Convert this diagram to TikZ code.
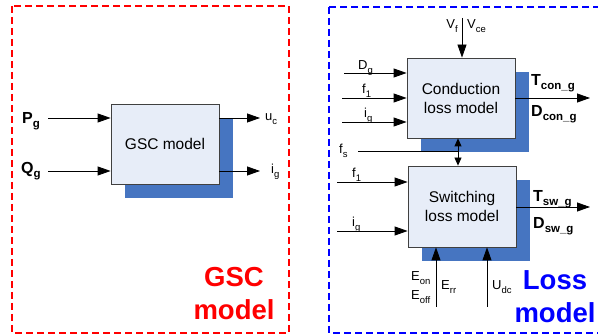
\documentclass[tikz,border=0pt]{standalone}
\usepackage{fontspec}
\setmainfont{Liberation Sans}
\usetikzlibrary{arrows.meta,shadows}
\definecolor{boxfill}{RGB}{231,237,248}
\definecolor{shadowblue}{RGB}{70,117,193}
\definecolor{lossblue}{RGB}{0,0,255}
\definecolor{gscred}{RGB}{255,0,0}
\newcommand{\lowtxt}[1]{\raisebox{-0.45ex}{\fontsize{9.5}{10}\selectfont #1}}
\newcommand{\lowbold}[1]{\raisebox{-0.45ex}{\fontsize{11.5}{12}\selectfont\bfseries #1}}
\begin{document}
\begin{tikzpicture}[
                x = 1pt, y = -1pt,
                block/.style = {draw = black!75, line width = 0.8pt, fill = boxfill, minimum width = 108pt, minimum height = 80pt,
                    inner sep = 0pt, align = center, font = \fontsize{15.5}{19}\selectfont,
                    drop shadow = {shadow xshift = 14pt, shadow yshift = -14pt, fill = shadowblue, opacity = 1}},
                small/.style = {inner sep = 0pt, font = \fontsize{13}{15}\selectfont},
                big/.style = {inner sep = 0pt, font = \bfseries\fontsize{16}{18}\selectfont},
                title/.style = {inner sep = 0pt, align = center, font = \bfseries\fontsize{27.5}{33}\selectfont},
                frame/.style = {line width = 1.5pt, dash pattern = on 7pt off 4pt},
                arr/.style = {draw, line width = 0.8pt, -{Triangle[length = 13pt, width = 9pt]}},
                biarr/.style = {draw, line width = 0.8pt, {Triangle[length = 8pt, width = 7pt]}-{Triangle[length = 8pt, width = 7pt]}},
                wire/.style = {draw, line width = 0.8pt},
            ]
            \useasboundingbox (0,0) rectangle (598,336);

            % frames
            \draw[frame, gscred] (12,6) rectangle (289,333);
            \draw[frame, lossblue] (329,7) rectangle (606,333);

            % GSC model
            \node (gsc) [block] at (165,144) {GSC model};

            \coordinate (pgin) at (48,118);
            \coordinate (qgin) at (48,171);
            \coordinate (ucout) at (260,118);
            \coordinate (igout) at (260,171);

            \node (pg) [big, anchor = base west] at (22,124) {P\lowbold{g}};
            \node (qg) [big, anchor = base west] at (21,174) {Q\lowbold{g}};
            \node (uc) [small, anchor = base west] at (265,121) {u\lowtxt{c}};
            \node (ig) [small, anchor = base west] at (271,174) {i\lowtxt{g}};

            \path[arr] (pgin) -- (pgin -| gsc.west);
            \path[arr] (qgin) -- (qgin -| gsc.west);
            \path[arr] (gsc.east |- ucout) -- (ucout);
            \path[arr] (gsc.east |- igout) -- (igout);

            \node (gsctitle) [title, gscred] at (234,294) {GSC\\model};

            % loss model
            \node (cond) [block] at (461,98) {Conduction\\loss model};
            \node (sw) [block, minimum height = 81pt] at (462,206.5) {Switching\\loss model};

            \coordinate (vfin) at (462,18);
            \coordinate (dgin) at (344,73);
            \coordinate (f1cin) at (342,98);
            \coordinate (igcin) at (342,122);
            \coordinate (condout) at (590,98);
            \coordinate (fsin) at (358,151);
            \coordinate (f1sin) at (337,182);
            \coordinate (igsin) at (337,231);
            \coordinate (swout) at (590,207);
            \coordinate (eonin) at (436,307);
            \coordinate (udcin) at (487,307);

            \node (vf) [small, anchor = base east] at (458,29) {V\lowtxt{f}};
            \node (vce) [small, anchor = base west] at (467,29) {V\lowtxt{ce}};
            \node (dg) [small, anchor = base west] at (358,70) {D\lowtxt{g}};
            \node (f1c) [small, anchor = base west] at (362,94) {f\lowtxt{1}};
            \node (igc) [small, anchor = base west] at (364,118) {i\lowtxt{g}};
            \node (tcon) [big, anchor = base west] at (531,86) {T\lowbold{con\_g}};
            \node (dcon) [big, anchor = base west] at (531,117) {D\lowbold{con\_g}};
            \node (fs) [small, anchor = base west] at (339,154) {f\lowtxt{s}};
            \node (f1s) [small, anchor = base west] at (352,178) {f\lowtxt{1}};
            \node (igs) [small, anchor = base west] at (352,227) {i\lowtxt{g}};
            \node (tsw) [big, anchor = base west] at (533,202) {T\lowbold{sw\_g}};
            \node (dsw) [big, anchor = base west] at (533,229) {D\lowbold{sw\_g}};
            \node (eon) [small, anchor = base west] at (411,281) {E\lowtxt{on}};
            \node (eoff) [small, anchor = base west] at (411,300) {E\lowtxt{off}};
            \node (err) [small, anchor = base west] at (441,290) {E\lowtxt{rr}};
            \node (udc) [small, anchor = base west] at (492,290) {U\lowtxt{dc}};

            \path[arr] (vfin) -- (vfin |- cond.north);
            \path[arr] (dgin) -- (dgin -| cond.west);
            \path[arr] (f1cin) -- (f1cin -| cond.west);
            \path[arr] (igcin) -- (igcin -| cond.west);
            \path[arr] (cond.east |- condout) -- (condout);

            \path[biarr] ([xshift = -3pt]cond.south) -- ([xshift = -3pt]cond.south |- sw.north);
            \path[wire] (fsin) -- ([xshift = -3pt]cond.south |- fsin);

            \path[arr] (f1sin) -- (f1sin -| sw.west);
            \path[arr] (igsin) -- (igsin -| sw.west);
            \path[arr] (sw.east |- swout) -- (swout);
            \path[arr] (eonin) -- (eonin |- sw.south);
            \path[arr] (udcin) -- (udcin |- sw.south);

            \node (losstitle) [title, lossblue] at (555,297) {Loss\\model};
        \end{tikzpicture}
\end{document}
